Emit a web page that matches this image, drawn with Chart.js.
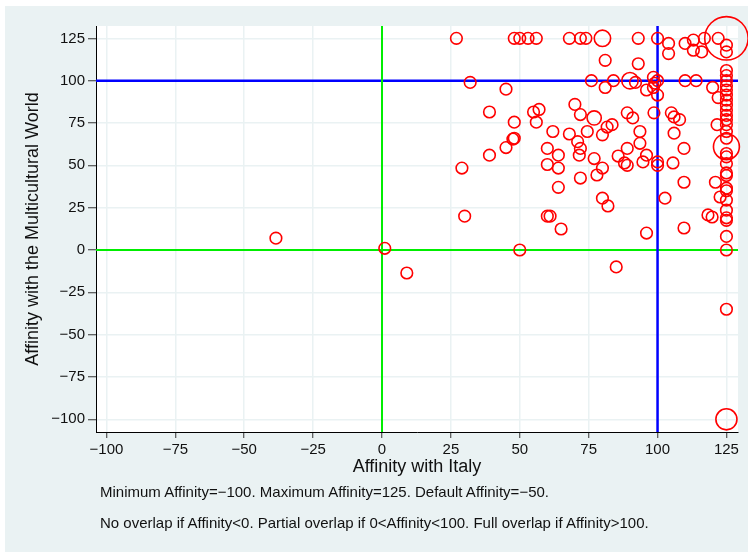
<!DOCTYPE html>
<html>
<head>
<meta charset="utf-8">
<script src="https://cdn.jsdelivr.net/npm/chart.js@4"></script>
<style>
  html, body { margin: 0; padding: 0; background: #fff; }
  body { width: 748px; height: 552px; position: relative; overflow: hidden; }
  #frame { position: absolute; left: 5px; top: 6px; width: 743px; height: 546px; background: #eaf2f3; }
  #chart { position: absolute; left: 0; top: 0; }
  .note { position: absolute; left: 100px; font-family: "Liberation Sans", Arial, sans-serif; font-size: 15px; color: #111; white-space: nowrap; line-height: 16px; }
</style>
</head>
<body>
<div id="frame"><canvas id="chart" width="743" height="546"></canvas></div>
<div class="note" style="top:484px">Minimum Affinity=&minus;100. Maximum Affinity=125. Default Affinity=&minus;50.</div>
<div class="note" style="top:515px">No overlap if Affinity&lt;0. Partial overlap if 0&lt;Affinity&lt;100. Full overlap if Affinity&gt;100.</div>
<script>
// affinity with Italy (x), affinity with the multicultural world (y), weight of each marker
var italy = [
    27, 48, 50, 53, 56, 68, 72, 74, 80, 93, 100, 104, 104, 110, 113, 113, 116, 117, 122, 125, 125, 125,
    32, 45, 76, 81, 81, 84, 90, 92, 93, 96, 98.5, 99, 100, 98.5, 100, 110, 114, 120, 122,
    125, 125, 125, 125, 125, 125, 125, 125, 125, 125, 125, 125, 125, 125, 125, 125, 125, 125, 125, 125,
    125, 125, 125, 125, 125, 125, 125, 125, 125, 125,
    39, 55, 57, 56, 48, 62, 68, 70, 72, 74.5, 48, 71, 77, 83.5, 81.7, 89, 91, 98.7, 105, 106, 108, 93.6,
    106, 80, 121.6, 47.5, 45, 39, 60, 64, 60, 64, 72, 71.6, 77, 80, 78, 72, 64, 85.7, 89, 88, 89, 94.7,
    96, 100, 100, 105.6, 109.6, 109.6, 102.7, 93.6, 121, 122.7, 118.3, 119.8, 80, 82, 29, 30, 60, 61, 65,
    96, 109.6, 1, 50, 85, 9, -38.5
];
var multicultural = [
    125, 125, 125, 125, 125, 125, 125, 125, 125, 125, 125, 122, 116, 122, 124, 118, 117, 125, 125, 121, 117, 125,
    99, 95, 100, 112, 96, 100, 100, 99, 110, 94.5, 102, 98.5, 100, 96, 91.5, 100, 100, 96, 90,
    106, 103, 100, 97, 94.5, 91.5, 88.5, 85.5, 82.5, 79.5, 77, 74, 70, 66, 61, 57, 55, 51, 45.5, 44,
    36.5, 35, 29.5, 23.5, 19, 17.5, 8, 0, -35, -100,
    81.5, 81.5, 83, 75.5, 75.5, 70, 68.5, 86, 80, 70, 66, 64, 78, 74, 72.6, 81, 78, 81, 81, 78.6, 77, 70,
    69, 68, 74, 65.5, 60.5, 56, 60, 56, 50.5, 48.4, 60, 56, 54, 48.4, 44.3, 42.5, 37, 55.5, 60, 51.4, 50, 52,
    56, 52, 50, 51.4, 60, 40, 30.6, 63, 40, 31.3, 20.7, 19.5, 30.6, 26, 48.4, 20, 20, 20, 12.4,
    10, 13, 1, 0, -10, -13.6, 7
];
var weight = [
    1, 1, 1, 1, 1, 1, 1, 1, 2, 1, 1, 1, 1, 1, 1, 1, 1, 1, 1, 1, 1, 14,
    1, 1, 1, 1, 1, 1, 2, 1, 1, 1, 1, 1, 1, 1, 1, 1, 1, 1, 1,
    1, 1, 1, 1, 1, 1, 1, 1, 1, 1, 1, 1, 1, 1, 5, 1, 1, 1, 1, 1,
    1, 1, 1, 1, 1, 1, 1, 1, 1, 3.3,
    1, 1, 1, 1, 1, 1, 1, 1, 1, 1, 1, 1, 1.5, 1, 1, 1, 1, 1, 1, 1, 1, 1,
    1, 1, 1, 1, 1, 1, 1, 1, 1, 1, 1, 1, 1, 1, 1, 1, 1, 1, 1, 1, 1, 1,
    1, 1, 1, 1, 1, 1, 1, 1, 1, 1, 1, 1, 1, 1, 1, 1, 1, 1, 1,
    1, 1, 1, 1, 1, 1, 1
];
var xTicks = [-100, -75, -50, -25, 0, 25, 50, 75, 100, 125];
var yTicks = [-100, -75, -50, -25, 0, 25, 50, 75, 100, 125];
var xLines = [{ value: 0, color: '#00ee00' }, { value: 100, color: '#0000ff' }];
var yLines = [{ value: 0, color: '#00ee00' }, { value: 100, color: '#0000ff' }];

var points = [];
for (var i = 0; i < italy.length; i++) {
    points.push({ x: italy[i], y: multicultural[i], w: weight[i] });
}

var tickFont = { family: '"Liberation Sans", Arial, sans-serif', size: 15 };
var titleFont = { family: '"Liberation Sans", Arial, sans-serif', size: 18 };

function minus(v) {
    return String(v).replace('-', '\u2212');
}

var plotBackground = {
    id: 'plotBackground',
    beforeDraw(chart) {
        var a = chart.chartArea;
        var ctx = chart.ctx;
        ctx.save();
        ctx.fillStyle = '#ffffff';
        ctx.fillRect(a.left, a.top, a.right - a.left, a.bottom - a.top);
        ctx.restore();
    }
};

var refLines = {
    id: 'refLines',
    beforeDatasetsDraw(chart) {
        var a = chart.chartArea;
        var ctx = chart.ctx;
        ctx.save();
        yLines.forEach(function (l) {
            var py = chart.scales.y.getPixelForValue(l.value);
            ctx.strokeStyle = l.color;
            ctx.lineWidth = l.value == 0 ? 2 : 2.5;
            ctx.beginPath();
            ctx.moveTo(a.left, py);
            ctx.lineTo(a.right, py);
            ctx.stroke();
        });
        xLines.forEach(function (l) {
            var px = chart.scales.x.getPixelForValue(l.value);
            ctx.strokeStyle = l.color;
            ctx.lineWidth = l.value == 0 ? 2 : 2.5;
            ctx.beginPath();
            ctx.moveTo(px, a.top);
            ctx.lineTo(px, a.bottom);
            ctx.stroke();
        });
        ctx.restore();
    }
};

new Chart(document.getElementById('chart'), {
    type: 'scatter',
    data: {
        datasets: [{
            data: points,
            borderColor: '#ff0000',
            backgroundColor: 'rgba(0,0,0,0)',
            borderWidth: 1.6,
            pointRadius: function (c) { return 5.8 * Math.sqrt(c.raw ? c.raw.w : 1); },
            pointHoverRadius: function (c) { return 5.8 * Math.sqrt(c.raw ? c.raw.w : 1); },
            clip: false
        }]
    },
    options: {
        responsive: false,
        animation: false,
        events: [],
        layout: { autoPadding: false, padding: { left: 0, right: 10, top: 20, bottom: 0 } },
        plugins: { legend: { display: false }, tooltip: { enabled: false } },
        scales: {
            x: {
                type: 'linear',
                min: -103.8,
                max: 129.2,
                afterBuildTicks: function (s) { s.ticks = xTicks.map(function (v) { return { value: v }; }); },
                afterFit: function (s) { s.height = 120; s.paddingLeft = 0; s.paddingRight = 0; },
                grid: { color: '#eaf2f3', lineWidth: 1.5, tickColor: '#333', tickWidth: 1, tickLength: 6 },
                border: { color: '#000', width: 1 },
                ticks: { font: tickFont, color: '#111', padding: 3, maxRotation: 0, autoSkip: false, callback: function (v) { return minus(v); } },
                title: { display: true, text: 'Affinity with Italy', font: titleFont, color: '#111', padding: { top: 0, bottom: 74 } }
            },
            y: {
                type: 'linear',
                min: -107.5,
                max: 132.3,
                afterBuildTicks: function (s) { s.ticks = yTicks.map(function (v) { return { value: v }; }); },
                afterFit: function (s) { s.width = 91; s.paddingTop = 0; s.paddingBottom = 0; },
                grid: { color: '#eaf2f3', lineWidth: 1.5, tickColor: '#333', tickWidth: 1, tickLength: 8 },
                border: { color: '#000', width: 1 },
                ticks: { font: tickFont, color: '#111', padding: 3, autoSkip: false, callback: function (v) { return minus(v); } },
                title: { display: true, text: 'Affinity with the Multicultural World', font: titleFont, color: '#111', padding: { top: 17, bottom: 0 } }
            }
        }
    },
    plugins: [plotBackground, refLines]
});
</script>
</body>
</html>
